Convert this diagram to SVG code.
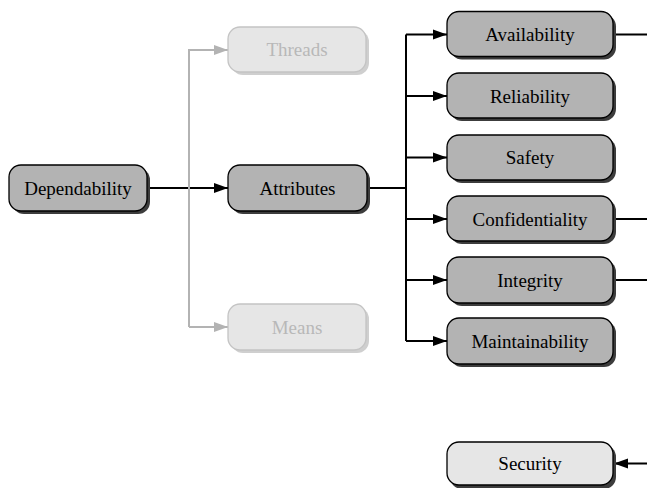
<svg xmlns="http://www.w3.org/2000/svg" width="647" height="488" viewBox="0 0 647 488" font-family="'Liberation Serif', 'Times New Roman', Tinos, 'DejaVu Serif', serif">
<style>
.box{fill:#b3b3b3;stroke:#000;stroke-width:1.3}
.shadow{fill:#3c3c3c}
.lbox{fill:#e6e6e6;stroke:#000;stroke-width:1.3}
.gbox{fill:#e6e6e6;stroke:#c4c4c4;stroke-width:1.3}
.gshadow{fill:#cfcfcf}
.t{font-size:19px;fill:#000;text-anchor:middle}
.gt{fill:#b8b8b8}
.c{fill:none;stroke:#000;stroke-width:2}
.gc{fill:none;stroke:#b3b3b3;stroke-width:2}
</style>
<defs>
<marker id="ah" markerUnits="userSpaceOnUse" markerWidth="15" markerHeight="12" refX="14" refY="6" orient="auto">
<path d="M0,1 L14,6 L0,11 Z" fill="#000"/>
</marker>
<marker id="gah" markerUnits="userSpaceOnUse" markerWidth="15" markerHeight="12" refX="14" refY="6" orient="auto">
<path d="M0,1 L14,6 L0,11 Z" fill="#b3b3b3"/>
</marker>
</defs>
<g id="connectors">
<path class="c" d="M147,188 H228" marker-end="url(#ah)"/>
<path class="gc" d="M189,327 V50 H228" marker-end="url(#gah)"/>
<path class="gc" d="M189,327 H228" marker-end="url(#gah)"/>
<path class="c" d="M368,188 H406"/>
<path class="c" d="M406,34.5 V341"/>
<path class="c" d="M406,34.5 H447" marker-end="url(#ah)"/>
<path class="c" d="M406,96 H447" marker-end="url(#ah)"/>
<path class="c" d="M406,157.5 H447" marker-end="url(#ah)"/>
<path class="c" d="M406,219 H447" marker-end="url(#ah)"/>
<path class="c" d="M406,280 H447" marker-end="url(#ah)"/>
<path class="c" d="M406,341 H447" marker-end="url(#ah)"/>
<path class="c" d="M613,34.5 H647"/>
<path class="c" d="M613,219 H647"/>
<path class="c" d="M613,280 H647"/>
<path class="c" d="M647,463.5 H614" marker-end="url(#ah)"/>
</g>
<g id="dependability">
<rect class="shadow" x="12" y="168" width="138" height="46" rx="12"/>
<rect class="box" x="9" y="165" width="138" height="46" rx="12"/>
<text class="t" x="78" y="194.5">Dependability</text>
</g>
<g id="threads">
<rect class="gshadow" x="231" y="30" width="138" height="45" rx="12"/>
<rect class="gbox" x="228" y="27" width="138" height="45" rx="12"/>
<text class="t gt" x="297" y="56">Threads</text>
</g>
<g id="attributes">
<rect class="shadow" x="231" y="168" width="139" height="46" rx="12"/>
<rect class="box" x="228" y="165" width="139" height="46" rx="12"/>
<text class="t" x="297.5" y="194.5">Attributes</text>
</g>
<g id="means">
<rect class="gshadow" x="231" y="307" width="138" height="46" rx="12"/>
<rect class="gbox" x="228" y="304" width="138" height="46" rx="12"/>
<text class="t gt" x="297" y="333.5">Means</text>
</g>
<g id="availability">
<rect class="shadow" x="450" y="14.5" width="166" height="45" rx="12"/>
<rect class="box" x="447" y="11.5" width="166" height="45" rx="12"/>
<text class="t" x="530" y="41">Availability</text>
</g>
<g id="reliability">
<rect class="shadow" x="450" y="76" width="166" height="45" rx="12"/>
<rect class="box" x="447" y="73" width="166" height="45" rx="12"/>
<text class="t" x="530" y="102.5">Reliability</text>
</g>
<g id="safety">
<rect class="shadow" x="450" y="138" width="166" height="45" rx="12"/>
<rect class="box" x="447" y="135" width="166" height="45" rx="12"/>
<text class="t" x="530" y="164">Safety</text>
</g>
<g id="confidentiality">
<rect class="shadow" x="450" y="199" width="166" height="45" rx="12"/>
<rect class="box" x="447" y="196" width="166" height="45" rx="12"/>
<text class="t" x="530" y="225.5">Confidentiality</text>
</g>
<g id="integrity">
<rect class="shadow" x="450" y="260" width="166" height="46" rx="12"/>
<rect class="box" x="447" y="257" width="166" height="46" rx="12"/>
<text class="t" x="530" y="286.5">Integrity</text>
</g>
<g id="maintainability">
<rect class="shadow" x="450" y="321" width="166" height="46" rx="12"/>
<rect class="box" x="447" y="318" width="166" height="46" rx="12"/>
<text class="t" x="530" y="347.5">Maintainability</text>
</g>
<g id="security">
<rect class="shadow" x="450" y="445" width="166" height="44" rx="12"/>
<rect class="lbox" x="447" y="442" width="166" height="43" rx="12"/>
<text class="t" x="530" y="470">Security</text>
</g>
</svg>
